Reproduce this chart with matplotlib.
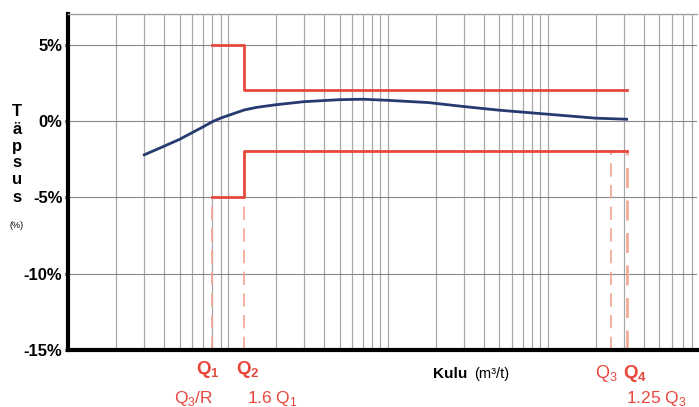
import matplotlib.pyplot as plt
from matplotlib.ticker import LogLocator, NullFormatter

plt.rcParams['font.family'] = ['Liberation Sans', 'DejaVu Sans']
plt.rcParams['mathtext.fontset'] = 'custom'
plt.rcParams['mathtext.rm'] = 'Liberation Sans'
plt.rcParams['mathtext.bf'] = 'Liberation Sans:bold'

# flow points (Q1..Q4)
q3 = 2500
q1 = q3 / 315
q2 = 1.6 * q1
q4 = 1.25 * q3

# measured error curve
flow = [3, 4, 5, 6, 7, 8, 9, 10, 12.7, 15, 20, 30, 50, 70, 100, 180, 300, 500, 900, 2000, 3125]
error = [-2.22, -1.65, -1.20, -0.76, -0.39, -0.05, 0.18, 0.35, 0.72, 0.88, 1.06, 1.26, 1.39,
         1.42, 1.35, 1.2, 0.94, 0.7, 0.48, 0.18, 0.11]

# tolerance limits (step lines)
upper_x = [q1, q2, q2, q4]
upper_y = [5, 5, 2, 2]
lower_x = [q1, q2, q2, q4]
lower_y = [-5, -5, -2, -2]

yticks = [5, 0, -5, -10, -15]
red = '#e8473c'
pale = '#f2a48f'

fig = plt.figure(figsize=(6.99, 4.07), dpi=100)
ax = fig.add_axes([0.0973, 0.14, 0.8997, 0.8256])

ax.set_xscale('log')
ax.set_xlim(1, 8600)
ax.set_ylim(-15, 7)

ax.xaxis.set_major_locator(LogLocator(base=10, numticks=10))
ax.xaxis.set_minor_locator(LogLocator(base=10, subs=range(2, 10), numticks=50))
ax.xaxis.set_major_formatter(NullFormatter())
ax.xaxis.set_minor_formatter(NullFormatter())
ax.grid(True, axis='x', which='both', color='#a8a8a8', linewidth=0.9)
ax.set_yticks(yticks)
ax.set_yticklabels([f'{v}%' for v in yticks], fontsize=12, fontweight='bold')
ax.grid(True, axis='y', which='major', color='#8a8a8a', linewidth=0.8)
ax.tick_params(axis='x', which='both', length=0)
ax.tick_params(axis='y', length=2, width=2, pad=2)

for s in ['left', 'bottom']:
    ax.spines[s].set_linewidth(3)
    ax.spines[s].set_color('black')
ax.spines['top'].set_color('#a0a0a0')
ax.spines['top'].set_linewidth(1)
ax.spines['right'].set_visible(False)

# dashed markers for Q points
ax.plot([q1, q1], [-15, -5], color=pale, lw=1.2, ls=(0, (8, 5)))
ax.plot([q2, q2], [-15, -5], color=pale, lw=1.2, ls=(0, (8, 5)))
ax.plot([q3, q3], [-15, -2], color=pale, lw=1.2, ls=(0, (8, 5)))
ax.plot([q4, q4], [-15, -2], color=pale, lw=1.8, ls=(0, (8, 5)))

ax.plot(upper_x, upper_y, color=red, lw=2)
ax.plot(lower_x, lower_y, color=red, lw=2)
ax.plot(flow, error, color='#253a70', lw=2)

# vertical y-label
letters = ['T', 'ä', 'p', 's', 'u', 's']
for i, ch in enumerate(letters):
    fig.text(17 / 699, 1 - (112 + i * 17) / 407, ch, fontsize=12, fontweight='bold',
             ha='center', va='center')
fig.text(17 / 699, 1 - 225 / 407, '(%)', fontsize=6.5, ha='center', va='center')

# x labels
def px(x, y):
    return x / 699, 1 - y / 407

fig.text(*px(208, 369), r'$\mathbf{Q_1}$', color=red, fontsize=13.5, ha='center', va='center')
fig.text(*px(248, 369), r'$\mathbf{Q_2}$', color=red, fontsize=13.5, ha='center', va='center')
fig.text(*px(194, 398), r'Q$_3$/R', color=red, fontsize=12.5, ha='center', va='center')
fig.text(*px(272, 398), r'1.6 Q$_1$', color=red, fontsize=12.5, ha='center', va='center')
fig.text(*px(433, 374), 'Kulu', fontsize=11, fontweight='bold', ha='left', va='center')
fig.text(*px(474, 374), '(m³/t)', fontsize=10.5, ha='left', va='center')
fig.text(*px(606, 374), r'Q$_3$', color=red, fontsize=13, ha='center', va='center')
fig.text(*px(635, 373), r'$\mathbf{Q_4}$', color=red, fontsize=13.5, ha='center', va='center')
fig.text(*px(656, 398), r'1.25 Q$_3$', color=red, fontsize=12.5, ha='center', va='center')

fig.savefig('out.png', dpi=100)
